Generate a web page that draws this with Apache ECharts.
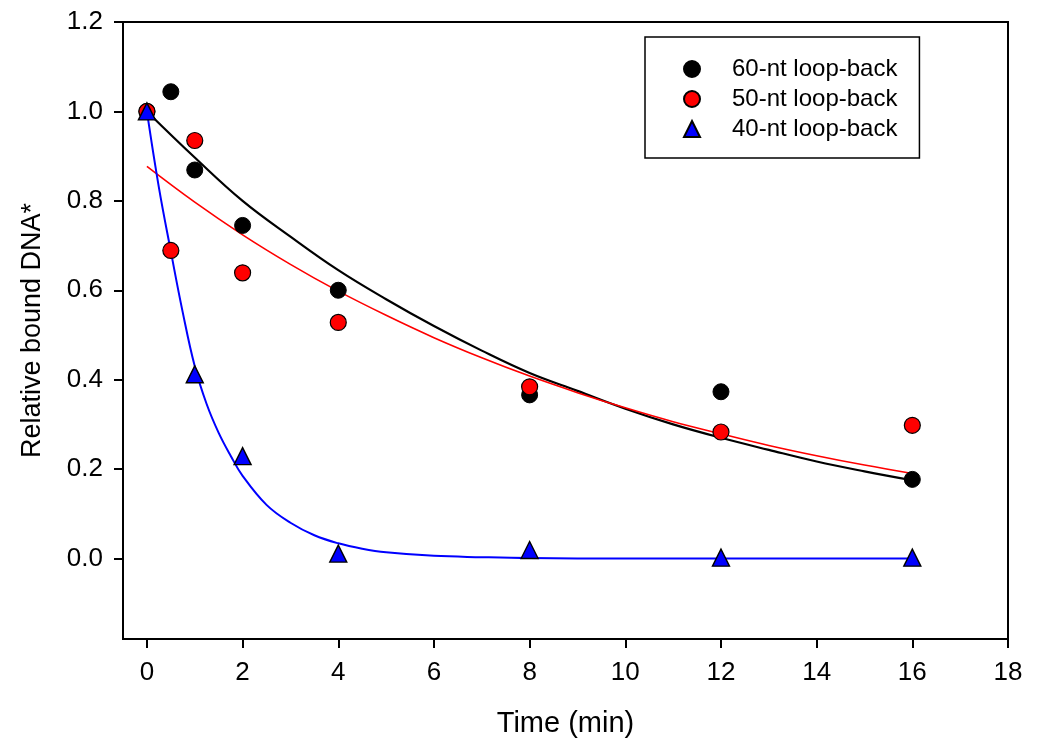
<!DOCTYPE html>
<html>
<head>
<meta charset="utf-8">
<script src="https://cdn.jsdelivr.net/npm/echarts@6/dist/echarts.min.js"></script>
<style>html,body{margin:0;padding:0;background:#fff}#c{width:1037px;height:743px}</style>
</head>
<body>
<div id="c"></div>
<script>
// ---- data ----
var times60 = [0, 0.5, 1, 2, 4, 8, 12, 16];
var nt60 = [1.0, 1.044, 0.869, 0.745, 0.600, 0.366, 0.373, 0.177];
var times50 = [0, 0.5, 1, 2, 4, 8, 12, 16];
var nt50 = [1.0, 0.689, 0.935, 0.639, 0.528, 0.384, 0.283, 0.298];
var times40 = [0, 1, 2, 4, 8, 12, 16];
var nt40 = [1.0, 0.412, 0.229, 0.011, 0.019, 0.002, 0.002];

// fitted curves
var fitT = [0,1,2,3,4,5,6,7,8,9,10,11,12,13,14,15,16];
var fit60 = [1.0,0.897,0.80,0.72,0.645,0.58,0.52,0.465,0.415,0.375,0.335,0.30,0.27,0.243,0.217,0.195,0.175];
var fit50 = [0.877,0.797,0.724,0.658,0.598,0.544,0.494,0.449,0.408,0.371,0.337,0.306,0.279,0.253,0.230,0.209,0.190];
var fitT40 = [0,0.25,0.5,0.75,1,1.25,1.5,1.75,2,2.5,3,3.5,4,4.5,5,6,7,8,10,12,14,16];
var fit40 = [1.0,0.83,0.687,0.55,0.43,0.345,0.281,0.23,0.185,0.12,0.08,0.052,0.034,0.022,0.014,0.006,0.003,0.001,0,0,0,0];

var xTicks = [0,2,4,6,8,10,12,14,16,18];
var yTicks = [0,0.2,0.4,0.6,0.8,1.0,1.2];

var names = ['60-nt loop-back','50-nt loop-back','40-nt loop-back'];

function pairs(xs, ys){ return xs.map(function(x,i){ return [x, ys[i]]; }); }

var chart = echarts.init(document.getElementById('c'));
var font = 'Liberation Sans, Arial, sans-serif';
chart.setOption({
  animation: false,
  backgroundColor: '#fff',
  grid: { left: 123, top: 22, right: 29, bottom: 104, show: true, borderColor: '#000', borderWidth: 2, backgroundColor: 'transparent' },
  legend: {
    orient: 'vertical',
    left: 645, top: 37,
    data: names,
    padding: [20, 22, 17, 38],
    borderColor: '#000', borderWidth: 1.5,
    itemWidth: 16, itemHeight: 16, itemGap: 6,
    textStyle: { fontFamily: font, fontSize: 24, color: '#000', padding: [0,0,0,27] }
  },
  xAxis: {
    type: 'value', min: -0.5, max: 18,
    name: 'Time (min)', nameLocation: 'middle', nameGap: 70,
    nameTextStyle: { fontFamily: font, fontSize: 29, color: '#000' },
    axisLine: { show: true, onZero: false, lineStyle: { color: '#000', width: 2 } },
    axisTick: { show: true, length: 9, customValues: xTicks, lineStyle: { color: '#000', width: 2 } },
    axisLabel: { customValues: xTicks, margin: 21, fontFamily: font, fontSize: 26, color: '#000' },
    splitLine: { show: false }
  },
  yAxis: {
    type: 'value', min: -0.18, max: 1.2,
    name: 'Relative bound DNA*', nameLocation: 'middle', nameGap: 77,
    nameTextStyle: { fontFamily: font, fontSize: 27, color: '#000' },
    axisLine: { show: true, onZero: false, lineStyle: { color: '#000', width: 2 } },
    axisTick: { show: true, length: 9, customValues: yTicks, lineStyle: { color: '#000', width: 2 } },
    axisLabel: { customValues: yTicks, margin: 20, fontFamily: font, fontSize: 26, color: '#000',
      formatter: function(v){ return v.toFixed(1); } },
    splitLine: { show: false }
  },
  series: [
    { type: 'line', data: pairs(fitT, fit60), showSymbol: false, smooth: 0.4, lineStyle: { color: '#000', width: 2.2 }, z: 2, silent: true },
    { type: 'line', data: pairs(fitT, fit50), showSymbol: false, smooth: 0.4, lineStyle: { color: '#ff0000', width: 1.6 }, z: 2, silent: true },
    { type: 'line', data: pairs(fitT40, fit40), showSymbol: false, smooth: 0.4, lineStyle: { color: '#0000ff', width: 2 }, z: 2, silent: true },
    { name: names[0], type: 'scatter', data: pairs(times60, nt60), symbol: 'circle', symbolSize: 16,
      itemStyle: { color: '#000', borderColor: '#000', borderWidth: 1, opacity: 1 }, z: 5 },
    { name: names[1], type: 'scatter', data: pairs(times50, nt50), symbol: 'circle', symbolSize: 16,
      itemStyle: { color: '#ff0000', borderColor: '#000', borderWidth: 1.2, opacity: 1 }, z: 6 },
    { name: names[2], type: 'scatter', data: pairs(times40, nt40), symbol: 'triangle', symbolSize: 17,
      itemStyle: { color: '#0000ff', borderColor: '#000', borderWidth: 1.4, opacity: 1 }, z: 7 }
  ]
});
</script>
</body>
</html>
